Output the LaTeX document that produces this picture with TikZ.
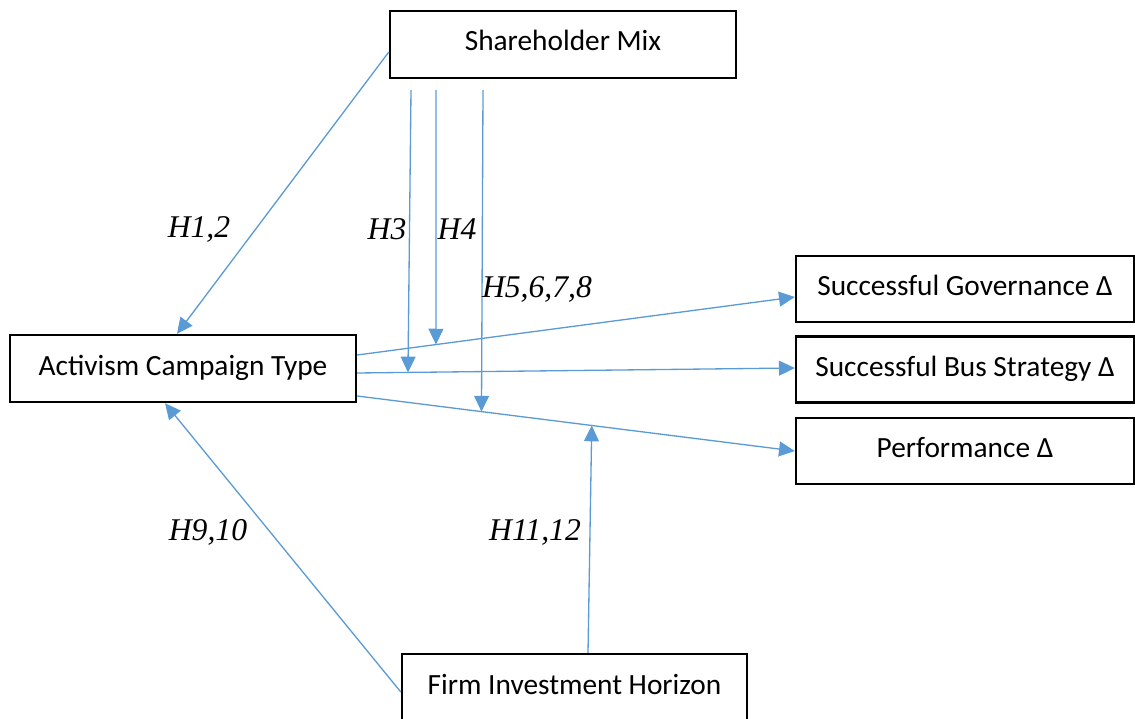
\documentclass[tikz,border=0pt]{standalone}
\usepackage{fontspec}
\setmainfont{Carlito}
\newfontfamily\hypfont{Liberation Serif}
\usepackage{tikz}
\usetikzlibrary{arrows.meta}
\definecolor{linkblue}{HTML}{5B9BD5}
\tikzset{
	box/.style 2 args={draw,line width=1.4pt,minimum width=#1,minimum height=#2,inner sep=0pt,text height=11pt,text depth=3.6pt,font=\fontsize{16.7}{20}\selectfont},
	link/.style={draw=linkblue,line width=0.75pt,-{Triangle[length=9pt,width=8.5pt]}},
	hyp/.style={font=\hypfont\itshape\fontsize{18}{21}\selectfont,inner sep=0pt}
}

\begin{document}
\begin{tikzpicture}[x=0.02cm,y=-0.02cm]
	\useasboundingbox (0,0) rectangle (1135,719);
	\node [box={6.92cm}{1.34cm}] (mix) at (563,44.5) {Shareholder Mix};
	\node [box={6.92cm}{1.34cm}] (act) at (183,368.5) {Activism Campaign Type};
	\node [box={6.76cm}{1.32cm}] (gov) at (965,289) {Successful Governance Δ};
	\node [box={6.76cm}{1.32cm}] (bus) at (965,369.5) {Successful Bus Strategy Δ};
	\node [box={6.76cm}{1.32cm}] (perf) at (965,451) {Performance Δ};
	\node [box={6.9cm}{1.34cm}] (fih) at (574.5,687.5) {Firm Investment Horizon};

	% outcome paths
	\draw [link] ([yshift=0.27cm]act.east) -- coordinate[pos=0.18] (h4end) ([yshift=-0.16cm]gov.west);
	\draw [link] ([yshift=-0.09cm]act.east) -- coordinate[pos=0.116] (h3end) ([yshift=0.03cm]bus.west);
	\draw [link] ([yshift=-0.55cm]act.east) -- coordinate[pos=0.284] (h5end) coordinate[pos=0.536] (h11end) (perf.west);

	% moderators
	\coordinate (h3start) at (411,90);
	\coordinate (h4start) at (436,90);
	\coordinate (h5start) at (483,90);
	\draw [link] ([yshift=-0.15cm]mix.west) -- ([xshift=-0.12cm]act.north);
	\draw [link] (h3start) -- (h3end);
	\draw [link] (h4start) -- (h4end);
	\draw [link] (h5start) -- (h5end);
	\draw [link] ([yshift=-0.09cm]fih.west) -- ([xshift=-0.36cm]act.south);
	\draw [link] ([xshift=0.27cm]fih.north) -- (h11end);

	\node [hyp] (h12) at (199,229) {H1,2};
	\node [hyp] (h3) at (387,229) {H3};
	\node [hyp] (h4) at (457,229) {H4};
	\node [hyp] (h5678) at (537,289) {H5,6,7,8};
	\node [hyp] (h910) at (208,532) {H9,10};
	\node [hyp] (h1112) at (535,532) {H11,12};
\end{tikzpicture}
\end{document}
